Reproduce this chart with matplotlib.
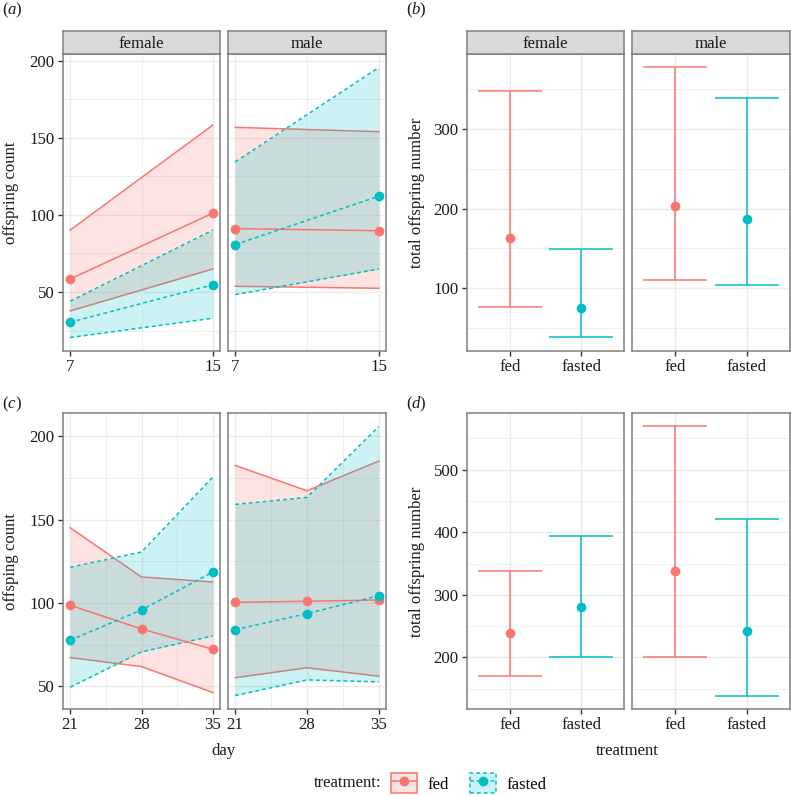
import numpy as np
import matplotlib
matplotlib.use('Agg')
import matplotlib.pyplot as plt
from matplotlib.patches import Patch
from matplotlib.lines import Line2D

plt.rcParams['font.family'] = ['Liberation Serif', 'DejaVu Serif']
plt.rcParams['mathtext.fontset'] = 'custom'
plt.rcParams['mathtext.rm'] = 'Liberation Serif'
plt.rcParams['mathtext.it'] = 'Liberation Serif:italic'

# colours (ggplot defaults)
FED = '#F8766D'
FASTED = '#00BFC4'
GRID = '#EBEBEB'
BORDER = '#7F7F7F'
TXT = '#1A1A1A'
FS = 12.1

# ---- data ----
# (a) offspring count, days 7 and 15
days_a = [7, 15]
a_female_fed_mean = [58.4, 101.1]
a_female_fed_lo = [37.7, 64.9]
a_female_fed_hi = [90.1, 158.2]
a_female_fasted_mean = [30.4, 54.7]
a_female_fasted_lo = [20.5, 33.0]
a_female_fasted_hi = [44.0, 90.1]
a_male_fed_mean = [91.1, 89.7]
a_male_fed_lo = [53.7, 52.4]
a_male_fed_hi = [156.7, 153.9]
a_male_fasted_mean = [80.7, 112.1]
a_male_fasted_lo = [48.3, 64.9]
a_male_fasted_hi = [134.3, 195.5]

# (c) offspring count, days 21, 28, 35
days_c = [21, 28, 35]
c_female_fed_mean = [98.6, 84.4, 72.2]
c_female_fed_lo = [67.2, 61.8, 46.2]
c_female_fed_hi = [145.2, 115.6, 112.6]
c_female_fasted_mean = [77.6, 95.8, 118.6]
c_female_fasted_lo = [49.4, 70.6, 80.2]
c_female_fasted_hi = [121.4, 130.6, 175.6]
c_male_fed_mean = [100.4, 101.0, 101.8]
c_male_fed_lo = [55.1, 61.1, 56.0]
c_male_fed_hi = [182.6, 167.4, 185.2]
c_male_fasted_mean = [84.0, 93.6, 104.4]
c_male_fasted_lo = [44.4, 53.8, 52.6]
c_male_fasted_hi = [159.2, 163.4, 206.0]

# (b) and (d) total offspring number, order: fed, fasted
treatments = ['fed', 'fasted']
b_female_mean = [162.7, 74.9]
b_female_lo = [76.6, 38.0]
b_female_hi = [347.2, 149.8]
b_male_mean = [202.9, 187.5]
b_male_lo = [109.7, 103.8]
b_male_hi = [377.3, 339.3]
d_female_mean = [239.7, 280.5]
d_female_lo = [171.0, 200.0]
d_female_hi = [337.6, 394.2]
d_male_mean = [337.6, 241.9]
d_male_lo = [201.0, 139.2]
d_male_hi = [568.8, 421.0]

W, H = 791, 796
fig = plt.figure(figsize=(W / 100, H / 100), dpi=100)


def add_ax(l, t, r, b):
    return fig.add_axes([l / W, 1 - b / H, (r - l) / W, (b - t) / H])


def expand(vals):
    lo, hi = min(vals), max(vals)
    pad = (hi - lo) * 0.05
    return lo - pad, hi + pad


def style(ax, xmaj, xmin, ymaj, ymin, show_y):
    ax.set_facecolor('white')
    ax.set_xticks(xmaj)
    ax.set_xticks(xmin, minor=True)
    ax.set_yticks(ymaj)
    ax.set_yticks(ymin, minor=True)
    ax.grid(which='major', color=GRID, lw=1.0, zorder=0)
    ax.grid(which='minor', color=GRID, lw=0.55, zorder=0)
    ax.set_axisbelow(True)
    for s in ax.spines.values():
        s.set_color(BORDER)
        s.set_linewidth(1.1)
        s.set_zorder(10)
    ax.tick_params(which='major', direction='out', length=3.5, width=1.0,
                   color='#333333', labelsize=FS, labelcolor=TXT, pad=2.5)
    ax.tick_params(which='minor', length=0)
    if not show_y:
        ax.tick_params(axis='y', which='both', left=False, labelleft=False)


def strip(l, r, t, b, label):
    sax = add_ax(l, t, r, b)
    sax.set_facecolor('#D9D9D9')
    sax.set_xticks([])
    sax.set_yticks([])
    for s in sax.spines.values():
        s.set_color(BORDER)
        s.set_linewidth(1.1)
    sax.text(0.5, 0.45, label, ha='center', va='center', fontsize=FS, color=TXT,
             transform=sax.transAxes)


def ribbon_panel(ax, x, fed, fasted):
    # fed ribbon then fasted ribbon, then the mean lines and points
    for (m, lo, hi), col, ls in [(fed, FED, '-'), (fasted, FASTED, (0, (2.5, 2)))]:
        ax.fill_between(x, lo, hi, color=col, alpha=0.2, lw=0, zorder=2)
        ax.plot(x, lo, color=col, ls=ls, lw=1.1, zorder=2)
        ax.plot(x, hi, color=col, ls=ls, lw=1.1, zorder=2)
    for (m, lo, hi), col, ls in [(fed, FED, '-'), (fasted, FASTED, (0, (2.5, 2)))]:
        ax.plot(x, m, color=col, ls=ls, lw=1.1, zorder=3)
        ax.plot(x, m, 'o', color=col, ms=7, mew=0, zorder=4)


def errbar_panel(ax, mean, lo, hi):
    pos = np.arange(1, len(treatments) + 1)
    cols = [FED, FASTED]
    for p, m, l, h, c in zip(pos, mean, lo, hi, cols):
        ax.vlines(p, l, h, color=c, lw=1.1, zorder=3)
        ax.hlines([l, h], p - 0.45, p + 0.45, color=c, lw=1.1, zorder=3)
        ax.plot(p, m, 'o', color=c, ms=7, mew=0, zorder=4)
    ax.set_xlim(0.4, 2.6)


# ---- panel (a) ----
ylim_a = expand(a_female_fed_lo + a_female_fed_hi + a_female_fasted_lo + a_female_fasted_hi
                + a_male_fed_lo + a_male_fed_hi + a_male_fasted_lo + a_male_fasted_hi)
for (l, r), sex, fed, fasted in [
        ((63, 220), 'female', (a_female_fed_mean, a_female_fed_lo, a_female_fed_hi),
         (a_female_fasted_mean, a_female_fasted_lo, a_female_fasted_hi)),
        ((228, 386), 'male', (a_male_fed_mean, a_male_fed_lo, a_male_fed_hi),
         (a_male_fasted_mean, a_male_fasted_lo, a_male_fasted_hi))]:
    ax = add_ax(l, 54, r, 351)
    ribbon_panel(ax, days_a, fed, fasted)
    ax.set_xlim(6.6, 15.4)
    ax.set_ylim(*ylim_a)
    style(ax, days_a, [11], [50, 100, 150, 200], [25, 75, 125, 175], sex == 'female')
    strip(l, r, 31, 54, sex)

# ---- panel (c) ----
ylim_c = expand(c_female_fed_lo + c_female_fed_hi + c_female_fasted_lo + c_female_fasted_hi
                + c_male_fed_lo + c_male_fed_hi + c_male_fasted_lo + c_male_fasted_hi)
for (l, r), sex, fed, fasted in [
        ((63, 220), 'female', (c_female_fed_mean, c_female_fed_lo, c_female_fed_hi),
         (c_female_fasted_mean, c_female_fasted_lo, c_female_fasted_hi)),
        ((228, 386), 'male', (c_male_fed_mean, c_male_fed_lo, c_male_fed_hi),
         (c_male_fasted_mean, c_male_fasted_lo, c_male_fasted_hi))]:
    ax = add_ax(l, 413, r, 709)
    ribbon_panel(ax, days_c, fed, fasted)
    ax.set_xlim(20.3, 35.7)
    ax.set_ylim(*ylim_c)
    style(ax, days_c, [24.5, 31.5], [50, 100, 150, 200], [75, 125, 175], sex == 'female')

# ---- panel (b) ----
ylim_b = expand(b_female_lo + b_female_hi + b_male_lo + b_male_hi)
for (l, r), sex, vals in [((467, 624), 'female', (b_female_mean, b_female_lo, b_female_hi)),
                          ((632, 790), 'male', (b_male_mean, b_male_lo, b_male_hi))]:
    ax = add_ax(l, 54, r, 351)
    errbar_panel(ax, *vals)
    ax.set_ylim(*ylim_b)
    style(ax, [1, 2], [], [100, 200, 300], [50, 150, 250, 350], sex == 'female')
    ax.set_xticklabels(treatments)
    strip(l, r, 31, 54, sex)

# ---- panel (d) ----
ylim_d = expand(d_female_lo + d_female_hi + d_male_lo + d_male_hi)
for (l, r), sex, vals in [((467, 624), 'female', (d_female_mean, d_female_lo, d_female_hi)),
                          ((632, 790), 'male', (d_male_mean, d_male_lo, d_male_hi))]:
    ax = add_ax(l, 413, r, 709)
    errbar_panel(ax, *vals)
    ax.set_ylim(*ylim_d)
    style(ax, [1, 2], [], [200, 300, 400, 500], [150, 250, 350, 450, 550], sex == 'female')
    ax.set_xticklabels(treatments)

# axis titles
fig.text(11 / W, 1 - 193 / H, 'offspring count', rotation=90, ha='center', va='center',
         fontsize=FS, color=TXT)
fig.text(11 / W, 1 - 562 / H, 'offsping count', rotation=90, ha='center', va='center',
         fontsize=FS, color=TXT)
fig.text(417 / W, 1 - 193 / H, 'total offspring number', rotation=90, ha='center',
         va='center', fontsize=FS, color=TXT)
fig.text(417 / W, 1 - 562 / H, 'total offspring number', rotation=90, ha='center',
         va='center', fontsize=FS, color=TXT)
fig.text(223 / W, 1 - 751 / H, 'day', ha='center', va='center', fontsize=FS, color=TXT)
fig.text(627 / W, 1 - 751 / H, 'treatment', ha='center', va='center', fontsize=FS, color=TXT)

# panel letters
for lab, x, y in [('a', 2, 10), ('b', 406, 10), ('c', 2, 404), ('d', 406, 404)]:
    fig.text(x / W, 1 - y / H, r'($\it{' + lab + '}$)', ha='left', va='center',
             fontsize=FS, color=TXT)

# legend
fig.text(381 / W, 1 - 783 / H, 'treatment:', ha='right', va='center', fontsize=FS, color=TXT)
handles = [
    (Patch(facecolor=matplotlib.colors.to_rgba(FED, 0.2), edgecolor=FED, lw=1.1),
     Line2D([], [], color=FED, lw=1.1, marker='o', ms=7, mew=0)),
    (Patch(facecolor=matplotlib.colors.to_rgba(FASTED, 0.2), edgecolor=FASTED, lw=1.1,
           linestyle=(0, (2.5, 2))),
     Line2D([], [], color=FASTED, lw=1.1, ls=(0, (2.5, 2)), marker='o', ms=7, mew=0))]
fig.legend(handles, treatments, loc='center left', bbox_to_anchor=(391 / W, 1 - 783 / H),
           ncol=2, frameon=False, fontsize=FS, handlelength=1.55, handleheight=1.4,
           handletextpad=0.6, columnspacing=1.3, borderpad=0, borderaxespad=0)

fig.savefig('out.png', dpi=100)
